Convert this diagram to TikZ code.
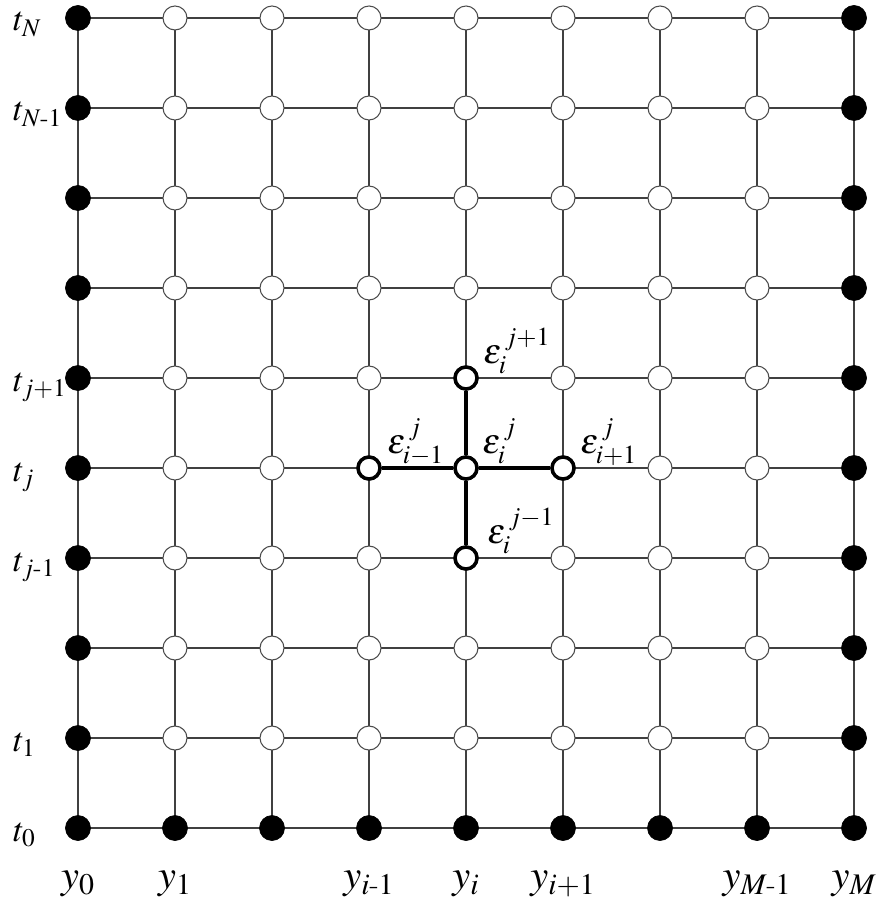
\documentclass[tikz,border=0pt]{standalone}
\usepackage{amsmath}
\usepackage{mathptmx}
\usepackage{tikz}
\usetikzlibrary{positioning}

\newcommand{\hy}{\text{-}}

\tikzset{
  fixed/.style={circle, fill=black, draw=black, inner sep=0pt, minimum size=0.5cm},
  free/.style={circle, fill=white, draw=black!70, line width=0.6pt, inner sep=0pt, minimum size=0.48cm},
  stencil/.style={circle, fill=white, draw=black, line width=2pt, inner sep=0pt, minimum size=0.44cm},
  gridline/.style={draw=black!75, line width=0.7pt},
  link/.style={draw=black, line width=2.4pt},
  tlabel/.style={inner sep=0pt, font=\fontsize{19.5}{21}\selectfont},
  ylabel/.style={inner sep=0pt, font=\fontsize{23}{25}\selectfont},
  elabel/.style={inner sep=0pt, font=\fontsize{20}{22}\selectfont}
}

\begin{document}
\begin{tikzpicture}[x=1.94cm, y=1.8cm]
\useasboundingbox (-0.804,-0.844) rectangle (8.258,9.2);

\foreach \i in {0,...,8}
  \foreach \j in {0,...,9}
    \coordinate (p-\i-\j) at (\i,\j);

% grid
\foreach \i in {0,...,8}
  \draw[gridline] (p-\i-0) -- (p-\i-9);
\foreach \j in {0,...,9}
  \draw[gridline] (p-0-\j) -- (p-8-\j);

% boundary and interior points
\foreach \j in {0,...,9} {
  \node[fixed] (n-0-\j) at (p-0-\j) {};
  \node[fixed] (n-8-\j) at (p-8-\j) {};
}
\foreach \i in {1,...,7} {
  \node[fixed] (n-\i-0) at (p-\i-0) {};
  \foreach \j in {1,...,9}
    \node[free] (n-\i-\j) at (p-\i-\j) {};
}

% stencil
\node[stencil] (sc) at (p-4-4) {};
\node[stencil] (sl) at (p-3-4) {};
\node[stencil] (sr) at (p-5-4) {};
\node[stencil] (su) at (p-4-5) {};
\node[stencil] (sd) at (p-4-3) {};
\draw[link] (sl) -- (sc) -- (sr);
\draw[link] (su) -- (sc) -- (sd);

\node[elabel, anchor=base west] at ([shift={(0.34cm,0.3cm)}]su.center) {$\varepsilon_i^{\,j+1}$};
\node[elabel, anchor=base west] at ([shift={(0.36cm,0.3cm)}]sl.center) {$\varepsilon_{i-1}^{\,j}$};
\node[elabel, anchor=base west] at ([shift={(0.32cm,0.3cm)}]sc.center) {$\varepsilon_i^{\,j}$};
\node[elabel, anchor=base west] at ([shift={(0.34cm,0.3cm)}]sr.center) {$\varepsilon_{i+1}^{\,j}$};
\node[elabel, anchor=base west] at ([shift={(0.42cm,0.3cm)}]sd.center) {$\varepsilon_i^{\,j-1}$};

% time labels
\foreach \j/\txt in {0/t_0, 1/t_1, 3/t_{j\hy1}, 4/t_j, 5/t_{j+1}, 8/t_{N\hy1}, 9/t_N}
  \node[tlabel, anchor=base west] at ([shift={(-1.3cm,-0.26cm)}]p-0-\j) {$\txt$};

% space labels
\foreach \i/\txt in {0/y_0, 1/y_1, 3/y_{i\hy1}, 4/y_i, 5/y_{i+1}, 7/y_{M\hy1}, 8/y_M}
  \node[ylabel, anchor=base] at ([yshift=-1.2cm]p-\i-0) {$\txt$};

\end{tikzpicture}
\end{document}
